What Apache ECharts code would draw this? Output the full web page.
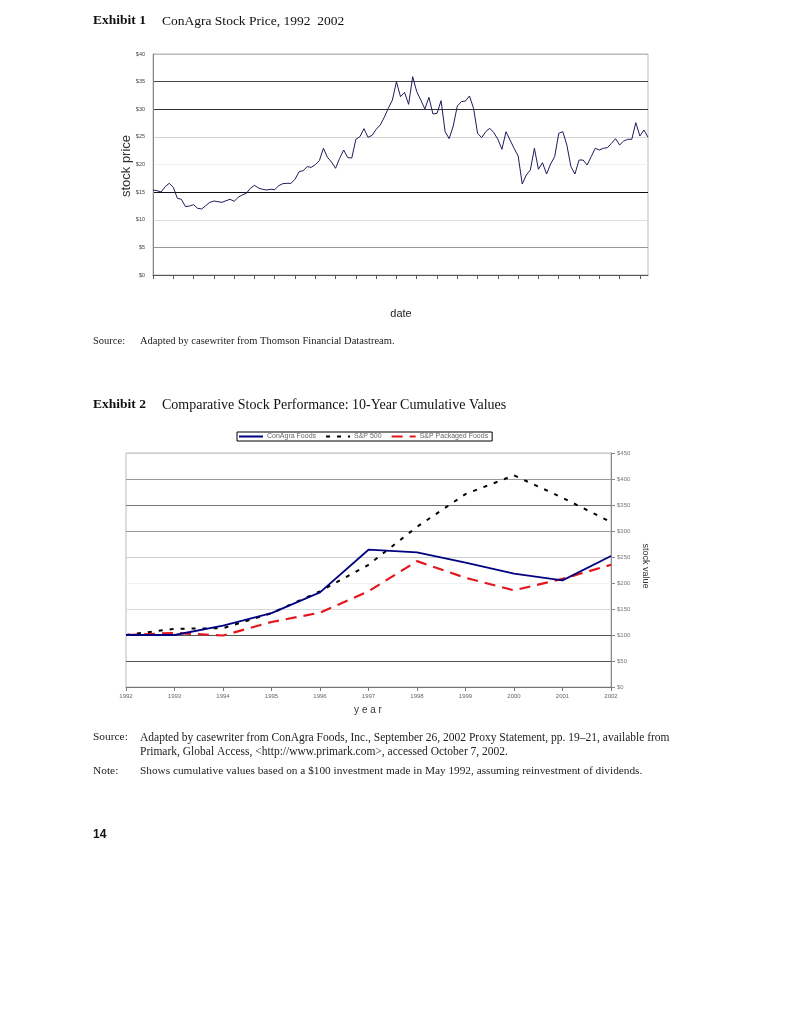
<!DOCTYPE html>
<html><head><meta charset="utf-8">
<script src="https://cdn.jsdelivr.net/npm/echarts@6/dist/echarts.min.js"></script>
<style>html,body{margin:0;padding:0;background:#fff}#c{width:791px;height:1024px}</style>
</head><body><div id="c"></div>
<script>
// ---------- Exhibit 1 data: monthly ConAgra share price ($) ----------
const stockPrice = [
15.38,15.26,15.02,15.99,16.59,15.87,13.88,13.70,12.37,12.49,
12.73,12.07,11.95,12.55,13.15,13.39,13.27,13.15,13.45,13.70,
13.33,14.06,14.48,14.78,15.69,16.23,15.75,15.51,15.38,15.51,
15.45,16.17,16.53,16.59,16.59,17.32,18.70,18.88,19.61,19.49,
19.97,20.69,22.93,21.30,20.45,19.31,21.12,22.62,21.24,21.18,
24.56,25.04,26.49,24.92,25.28,26.36,27.15,28.54,30.17,31.67,
34.99,32.28,33.06,30.89,35.90,33.18,31.67,30.05,32.16,29.14,
29.26,31.55,25.94,24.68,26.97,30.59,31.37,31.49,32.40,30.17,
25.64,24.86,25.94,26.55,25.76,24.56,22.75,25.94,24.43,22.93,
21.54,16.47,18.10,19.00,22.93,19.13,20.33,18.28,20.09,21.42,
25.64,25.94,23.53,19.61,18.28,20.81,20.81,19.91,21.42,22.93,
22.62,22.93,23.05,23.83,24.68,23.53,24.25,24.56,24.56,27.57,
25.16,26.24,24.92
];
const priceDates = stockPrice.map((v, i) => (1992 + Math.floor(i / 12)) + '-' + String(i % 12 + 1).padStart(2, '0'));

// ---------- Exhibit 2 data: cumulative value of $100 ----------
const years = ['1992','1993','1994','1995','1996','1997','1998','1999','2000','2001','2002'];
const conagraFoods = [100,100,118,142,182,264,259,239,218,205,252];
const sp500 = [100,112,113,142,184,235,308,371,407,364,317];
const spPackagedFoods = [100,104,99,125,143,184,242,210,186,208,235];

const serif = '"Liberation Serif", "DejaVu Serif", serif';
const sans = '"Liberation Sans", Arial, sans-serif';

const chart = echarts.init(document.getElementById('c'), null, {renderer: 'canvas'});

function txt(left, top, text, font, fill, extra) {
  return Object.assign({type: 'text', left: left, top: top, style: {text: text, font: font, fill: fill || '#1a1a1a'}}, extra || {});
}

chart.setOption({
  animation: false,
  backgroundColor: '#fff',
  grid: [
    {left: 153, top: 54, width: 495, height: 221, show: true, borderColor: '#bbb', borderWidth: 1, containLabel: false},
    {left: 126, top: 453, width: 485, height: 234, show: true, borderColor: '#bbb', borderWidth: 1, containLabel: false}
  ],
  legend: {
    show: true,
    left: 237, top: 432,
    orient: 'horizontal',
    borderColor: '#000', borderWidth: 1, padding: [1, 4, 1, 1],
    itemWidth: 24, itemHeight: 6, itemGap: 9,
    itemStyle: {opacity: 0},
    textStyle: {fontFamily: sans, fontSize: 7, color: '#666', padding: [0, 0, 0, -1]},
    data: ['ConAgra Foods', 'S&P 500', 'S&P Packaged Foods']
  },
  xAxis: [
    {
      gridIndex: 0, type: 'category', data: priceDates, boundaryGap: false,
      axisLine: {lineStyle: {color: '#555', width: 1}},
      axisTick: {show: true, interval: 4, length: 4, lineStyle: {color: '#555'}},
      axisLabel: {show: false},
      splitLine: {show: false}
    },
    {
      gridIndex: 1, type: 'category', data: years, boundaryGap: false,
      axisLine: {lineStyle: {color: '#777', width: 1}},
      axisTick: {show: true, length: 4, lineStyle: {color: '#777'}},
      axisLabel: {fontFamily: sans, fontSize: 6, color: '#666', margin: 6},
      splitLine: {show: false}
    }
  ],
  yAxis: [
    {
      gridIndex: 0, type: 'value', min: 0, max: 40, interval: 5,
      axisLine: {show: true, lineStyle: {color: '#888'}},
      axisTick: {show: false},
      axisLabel: {fontFamily: sans, fontSize: 5.5, color: '#444', margin: 8, formatter: v => '$' + v},
      splitLine: {show: true, lineStyle: {width: 1, color: ['#777', '#999', '#ddd', '#111', '#f0f0f0', '#d4d4d4', '#333', '#444', '#bbb']}}
    },
    {
      gridIndex: 1, type: 'value', position: 'right', min: 0, max: 450, interval: 50,
      axisLine: {show: true, lineStyle: {color: '#888'}},
      axisTick: {show: true, length: 4, lineStyle: {color: '#888'}},
      axisLabel: {fontFamily: sans, fontSize: 6, color: '#777', margin: 6, formatter: v => '$' + v},
      splitLine: {show: true, lineStyle: {width: 1, color: ['#777', '#555', '#555', '#d8d8d8', '#f2f2f2', '#cfcfcf', '#999', '#777', '#999', '#ccc']}}
    }
  ],
  series: [
    {
      name: 'ConAgra price', type: 'line', xAxisIndex: 0, yAxisIndex: 0,
      data: stockPrice, symbol: 'none', smooth: false,
      lineStyle: {color: '#1c1c5c', width: 1}
    },
    {
      name: 'ConAgra Foods', type: 'line', xAxisIndex: 1, yAxisIndex: 1,
      data: conagraFoods, symbol: 'none', itemStyle: {color: '#000080'},
      lineStyle: {color: '#000080', width: 1.8}, z: 4
    },
    {
      name: 'S&P 500', type: 'line', xAxisIndex: 1, yAxisIndex: 1,
      data: sp500, symbol: 'none', itemStyle: {color: '#000'},
      lineStyle: {color: '#000', width: 2, type: [4, 7]}, z: 3
    },
    {
      name: 'S&P Packaged Foods', type: 'line', xAxisIndex: 1, yAxisIndex: 1,
      data: spPackagedFoods, symbol: 'none', itemStyle: {color: '#e3161d'},
      lineStyle: {color: '#e3161d', width: 2.2, type: [11, 7]}, z: 2
    }
  ],
  graphic: [
    txt(93, 14, 'Exhibit 1', 'bold 13.5px ' + serif, '#111'),
    txt(162, 14, 'ConAgra Stock Price, 1992  2002', '13.5px ' + serif, '#111'),
    {type: 'text', x: 126, y: 166, rotation: Math.PI / 2, style: {text: 'stock price', font: '13px ' + sans, fill: '#333', align: 'center', verticalAlign: 'middle'}},
    {type: 'text', x: 401, y: 314, style: {text: 'date', font: '11px ' + sans, fill: '#222', align: 'center', verticalAlign: 'middle'}},
    txt(93, 336, 'Source:', '10.5px ' + serif, '#222'),
    txt(140, 336, 'Adapted by casewriter from Thomson Financial Datastream.', '10.5px ' + serif, '#222'),
    txt(93, 398, 'Exhibit 2', 'bold 13.5px ' + serif, '#111'),
    txt(162, 398, 'Comparative Stock Performance: 10-Year Cumulative Values', '14px ' + serif, '#111'),
    {type: 'text', x: 645, y: 566, rotation: -Math.PI / 2, style: {text: 'stock value', font: '9px ' + sans, fill: '#333', align: 'center', verticalAlign: 'middle'}},
    {type: 'text', x: 368, y: 710, style: {text: 'y e a r', font: '10px ' + sans, fill: '#333', align: 'center', verticalAlign: 'middle'}},
    txt(93, 732, 'Source:', '11.4px ' + serif, '#222'),
    txt(140, 732, 'Adapted by casewriter from ConAgra Foods, Inc., September 26, 2002 Proxy Statement, pp. 19\u201321, available from', '11.5px ' + serif, '#222'),
    txt(140, 746, 'Primark, Global Access, <http://www.primark.com>, accessed October 7, 2002.', '11.5px ' + serif, '#222'),
    txt(93, 766, 'Note:', '11.4px ' + serif, '#222'),
    txt(140, 766, 'Shows cumulative values based on a $100 investment made in May 1992, assuming reinvestment of dividends.', '11.3px ' + serif, '#222'),
    txt(93, 829, '14', 'bold 12px ' + sans, '#111')
  ]
});
</script></body></html>
